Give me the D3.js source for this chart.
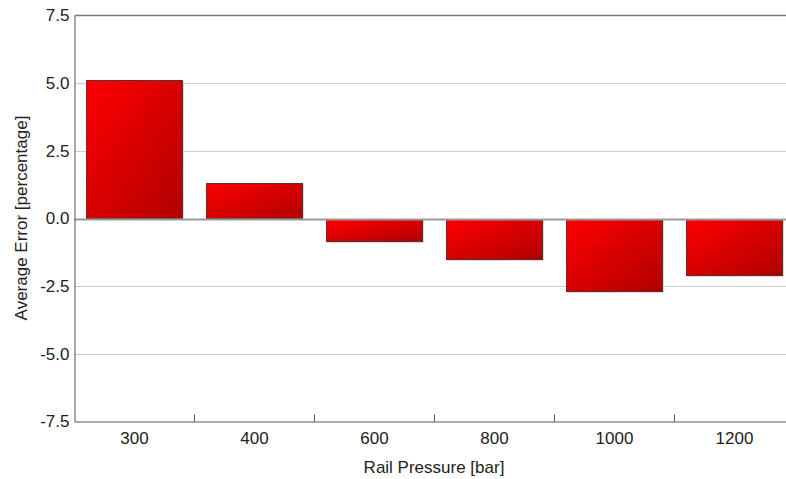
<!DOCTYPE html>
<html><head><meta charset="utf-8">
<script src="https://cdn.jsdelivr.net/npm/d3@7/dist/d3.min.js"></script>
<style>body{margin:0;background:#fff}svg{display:block}text{font-family:"Liberation Sans",Arial,sans-serif;fill:#222}</style>
</head><body><svg id="c" width="786" height="479"></svg>
<script>
const categories = ["300","400","600","800","1000","1200"];
const values = [5.1, 1.3, -0.82, -1.47, -2.65, -2.07];
const yTicks = [-7.5,-5.0,-2.5,0.0,2.5,5.0,7.5];
const xTitle = "Rail Pressure [bar]";
const yTitle = "Average Error [percentage]";

const svg = d3.select("#c");
const L = 74.5, T = 15.5, B = 421.5, R = 794.5;
const x = d3.scaleBand().domain(categories).range([L, R]).paddingInner(0.2).paddingOuter(0.1);
const y = d3.scaleLinear().domain([-7.5, 7.5]).range([B, T]);

const defs = svg.append("defs");
const g = defs.append("linearGradient").attr("id","grad").attr("x1","0").attr("y1","0").attr("x2","1").attr("y2","1");
g.append("stop").attr("offset","0").attr("stop-color","#ff0000");
g.append("stop").attr("offset","1").attr("stop-color","#b00000");

// grid
svg.append("g").selectAll("line").data(yTicks.filter(d=>d!==0 && d!==7.5 && d!==-7.5)).join("line")
  .attr("x1", L).attr("x2", 786).attr("y1", d=>Math.round(y(d))+0.5).attr("y2", d=>Math.round(y(d))+0.5)
  .attr("stroke","#cccccc").attr("stroke-width",1);

// bar shadows
svg.append("g").selectAll("rect").data(values).join("rect")
  .attr("x", (d,i)=>Math.floor(x(categories[i]))+1.5)
  .attr("width", Math.round(x.bandwidth()))
  .attr("y", d=>Math.round(y(Math.max(0,d)))+1.5)
  .attr("height", d=>Math.round(Math.abs(y(d)-y(0))))
  .attr("fill","none").attr("stroke","#f0d0d0").attr("stroke-width",1);

// bars
svg.append("g").selectAll("rect").data(values).join("rect")
  .attr("x", (d,i)=>Math.floor(x(categories[i]))+0.5)
  .attr("width", Math.round(x.bandwidth()))
  .attr("y", d=>Math.round(y(Math.max(0,d)))+0.5)
  .attr("height", d=>Math.round(Math.abs(y(d)-y(0))))
  .attr("fill","url(#grad)").attr("stroke","#553333").attr("stroke-width",1);

// zero line
svg.append("line").attr("x1",L).attr("x2",786).attr("y1",Math.round(y(0))+0.5).attr("y2",Math.round(y(0))+0.5)
  .attr("stroke","#999").attr("stroke-width",2);

// top border
svg.append("line").attr("x1",L).attr("x2",786).attr("y1",T).attr("y2",T).attr("stroke","#777").attr("stroke-width",1.5);

// y axis
const fmt = d => d3.format(".1f")(d).replace("\u2212","-");
const ya = svg.append("g").attr("transform",`translate(${L},0)`)
  .call(d3.axisLeft(y).tickValues(yTicks).tickFormat(fmt).tickSize(0).tickPadding(5));
ya.select(".domain").attr("stroke","#555");
ya.selectAll("text").style("font-size","17px").attr("fill","#222").attr("font-family","Liberation Sans, Arial, sans-serif");

// x axis
const xa = svg.append("g").attr("transform",`translate(0,${B})`)
  .call(d3.axisBottom(x).tickSize(0).tickPadding(10));
xa.select(".domain").attr("stroke","#555");
xa.selectAll("text").style("font-size","17px").attr("fill","#222").attr("font-family","Liberation Sans, Arial, sans-serif");
// separator ticks
svg.append("g").selectAll("line").data(categories.slice(1)).join("line")
  .attr("x1", d=>Math.round(x(d)-x.step()*x.paddingInner()/2)-0.5)
  .attr("x2", d=>Math.round(x(d)-x.step()*x.paddingInner()/2)-0.5)
  .attr("y1", B).attr("y2", B-7).attr("stroke","#555");

svg.append("text").attr("x", 434).attr("y", 473).attr("text-anchor","middle").style("font-size","17px").text(xTitle);
svg.append("text").attr("transform","translate(27,218) rotate(-90)").attr("text-anchor","middle").style("font-size","17px").text(yTitle);
</script></body></html>
